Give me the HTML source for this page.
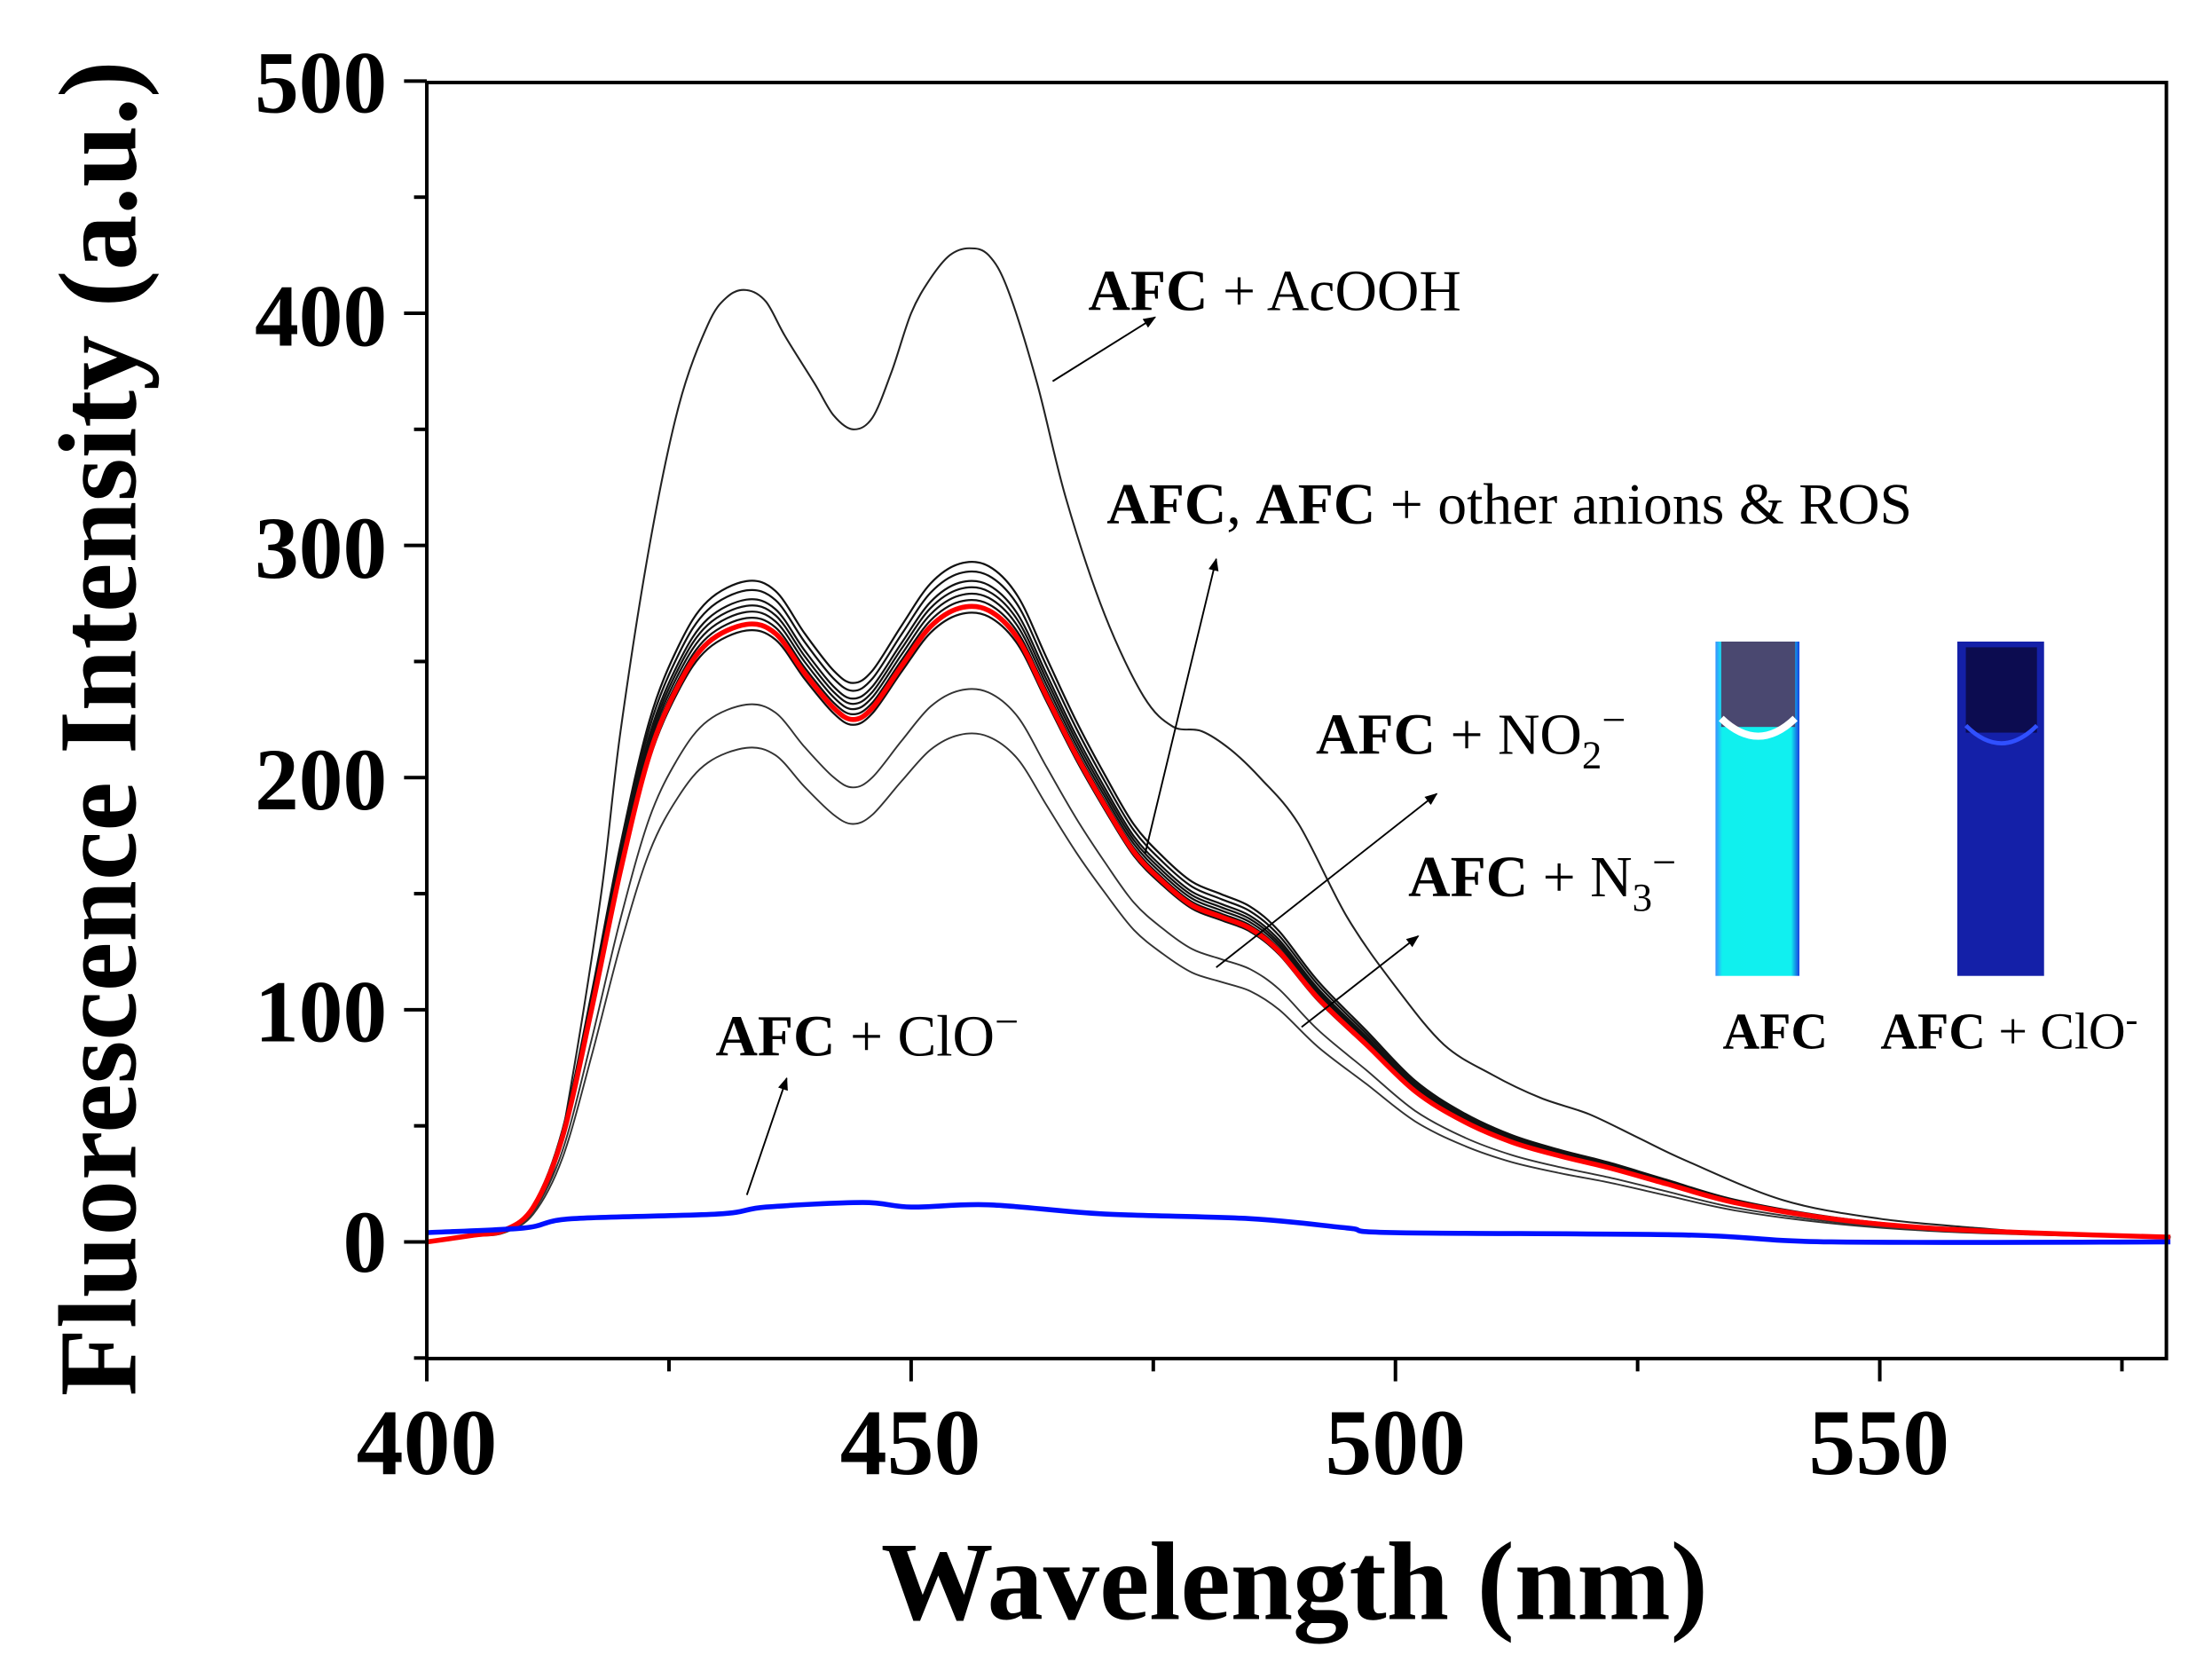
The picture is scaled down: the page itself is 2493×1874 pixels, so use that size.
<!DOCTYPE html>
<html><head><meta charset="utf-8">
<style>
html,body{margin:0;padding:0;background:#fff;}
svg{display:block;}
text{font-family:"Liberation Serif",serif;}
</style></head>
<body>
<svg id="s" width="2493" height="1874" viewBox="0 0 1555 1169" xmlns="http://www.w3.org/2000/svg">
<defs>
<marker id="ar" viewBox="0 0 10 10" refX="9" refY="5" markerWidth="9" markerHeight="9" orient="auto" markerUnits="userSpaceOnUse"><path d="M0,1 L10,5 L0,9 z" fill="#000"/></marker>
<linearGradient id="g1" x1="0" x2="1"><stop offset="0" stop-color="#3a8fff"/><stop offset="0.08" stop-color="#10f0ee"/><stop offset="0.9" stop-color="#10f0f0"/><stop offset="1" stop-color="#1840e0"/></linearGradient>
</defs>
<g id="curves" fill="none"></g>
<rect x="300" y="58" width="1223" height="897" fill="none" stroke="#000" stroke-width="2.5"/>
<g id="ticks" stroke="#000" stroke-width="2.5"></g>
<g font-weight="bold" font-size="62" text-anchor="end">
<text x="272" y="79">500</text>
<text x="272" y="243">400</text>
<text x="272" y="406">300</text>
<text x="272" y="569">200</text>
<text x="272" y="732">100</text>
<text x="272" y="894">0</text>
</g>
<g font-weight="bold" font-size="66" text-anchor="middle">
<text x="300" y="1036">400</text>
<text x="640" y="1036">450</text>
<text x="981" y="1036">500</text>
<text x="1321" y="1036">550</text>
</g>
<text x="910" y="1138" font-weight="bold" font-size="79" text-anchor="middle">Wavelength (nm)</text>
<text transform="translate(95,512) rotate(-90)" font-weight="bold" font-size="78" text-anchor="middle">Fluorescence Intensity (a.u.)</text>
<g font-size="41">
<text x="765" y="218"><tspan font-weight="bold">AFC</tspan> + AcOOH</text>
<text x="778" y="368"><tspan font-weight="bold">AFC</tspan>, <tspan font-weight="bold">AFC</tspan> + other anions &amp; ROS</text>
<text x="925" y="530"><tspan font-weight="bold">AFC</tspan> + NO<tspan font-size="28" dy="10">2</tspan><tspan dy="-24" font-size="30">−</tspan></text>
<text x="990" y="630"><tspan font-weight="bold">AFC</tspan> + N<tspan font-size="28" dy="10">3</tspan><tspan dy="-24" font-size="30">−</tspan></text>
<text x="503" y="742"><tspan font-weight="bold">AFC</tspan> + ClO<tspan dy="-14" font-size="30">−</tspan></text>
</g>
<g stroke="#000" stroke-width="1.2" marker-end="url(#ar)">
<line x1="740" y1="268" x2="812" y2="223"/>
<line x1="805" y1="600" x2="855" y2="393"/>
<line x1="855" y1="680" x2="1010" y2="558"/>
<line x1="915" y1="722" x2="997" y2="658"/>
<line x1="525" y1="840" x2="553" y2="758"/>
</g>
<rect x="1206" y="451" width="59" height="235" fill="url(#g1)"/>
<rect x="1210" y="451" width="52" height="60" fill="#4a4870"/>
<path d="M1210,505 Q1236,530 1262,505" stroke="#fff" stroke-width="5" fill="none"/>
<rect x="1376" y="451" width="61" height="235" fill="#1420a8"/>
<rect x="1382" y="455" width="50" height="60" fill="#0c0c50"/>
<path d="M1382,510 Q1407,535 1432,510" stroke="#3050ff" stroke-width="3" fill="none"/>
<g font-size="36">
<text x="1248" y="737" text-anchor="middle" font-weight="bold">AFC</text>
<text x="1322" y="737"><tspan font-weight="bold">AFC</tspan> + ClO<tspan dy="-12" font-size="26">-</tspan></text>
</g>
</svg>
<script>
var NS="http://www.w3.org/2000/svg";
function X(w){return 300+(w-400)*6.81;}
function Y(v){return 873-v*1.632;}
function path(pts,col,w){var P=[];for(var i=0;i<pts.length;i+=2)P.push([X(pts[i]),Y(pts[i+1])]);
var d="M"+P[0][0].toFixed(1)+","+P[0][1].toFixed(1);
for(var i=0;i<P.length-1;i++){var p0=P[Math.max(0,i-1)],p1=P[i],p2=P[i+1],p3=P[Math.min(P.length-1,i+2)];
var c1=[p1[0]+(p2[0]-p0[0])/6,p1[1]+(p2[1]-p0[1])/6],c2=[p2[0]-(p3[0]-p1[0])/6,p2[1]-(p3[1]-p1[1])/6];
d+="C"+c1[0].toFixed(1)+","+c1[1].toFixed(1)+" "+c2[0].toFixed(1)+","+c2[1].toFixed(1)+" "+p2[0].toFixed(1)+","+p2[1].toFixed(1);}
var p=document.createElementNS(NS,"path");p.setAttribute("d",d);p.setAttribute("stroke",col);p.setAttribute("stroke-width",w);p.setAttribute("fill","none");p.setAttribute("stroke-linejoin","round");document.getElementById("curves").appendChild(p);}
var ac=[400,0,405,3,410,10,413,30,415,70,418,150,420,220,423,300,426,360,429,395,431,407,433,410,435,405,437,390,440,370,442,356,444,350,446,355,448,375,450,400,452,415,454,425,456,428,458,425,460,410,463,370,466,320,470,270,474,235,477,222,480,220,483,212,486,200,490,180,495,140,500,110,505,85,510,72,515,62,520,55,525,45,530,35,540,18,550,10,560,6,570,3,580,2];
var rd=[400,0,405,3,408,5,411,15,414,45,417,100,420,160,423,210,426,240,429,258,433,266,436,262,439,245,442,230,444,225,446,230,449,248,452,265,455,273,458,272,461,260,464,235,467,210,470,188,473,168,476,155,479,145,482,140,485,135,488,125,492,105,497,85,502,65,507,52,512,43,517,37,522,32,528,25,535,17,545,10,555,6,565,4,580,2];
function sc(a,f){var r=[];for(var i=0;i<a.length;i+=2){r.push(a[i],a[i+1]*f);}return r;}
path(ac,"#222",1.3);
[1.07,1.055,1.04,1.03,1.02,1.01,0.99].forEach(function(f){path(sc(rd,f),"#111",1.4);});
path(sc(rd,0.87),"#333",1.2);path(sc(rd,0.80),"#333",1.2);
path(rd,"#f00",3.5);
var bl=[400,4,410,6,415,10,430,12,435,15,445,17,450,15,458,16,470,12,485,10,495,6,500,4,530,3,545,0,580,0];
path(bl,"#0010ff",3.5);
var t=document.getElementById("ticks");
function ln(a,b,c,d){var l=document.createElementNS(NS,"line");l.setAttribute("x1",a);l.setAttribute("y1",b);l.setAttribute("x2",c);l.setAttribute("y2",d);t.appendChild(l);}
for(var v=-50;v<=500;v+=50){var y=Y(v);ln(300,y,v%100==0?284:291,y);}
for(var w=400;w<=580;w+=25){var x=X(w);ln(x,955,x,w%50==0?971:964);}
</script>
</body></html>
